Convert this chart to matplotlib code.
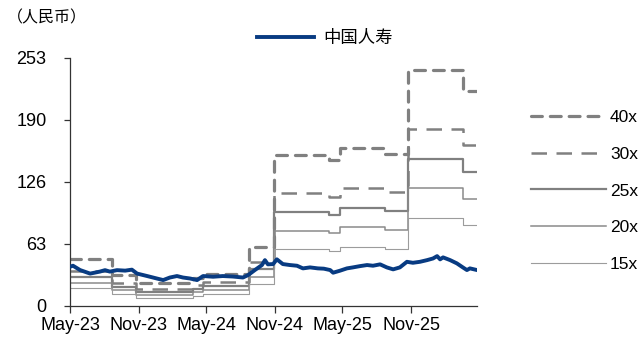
import numpy as np
import matplotlib
matplotlib.use('Agg')
import matplotlib.pyplot as plt
import matplotlib.dates as mdates
from matplotlib.lines import Line2D

plt.rcParams['font.family'] = ['Liberation Sans', 'Noto Sans CJK SC', 'DejaVu Sans']

# ---------------- data ----------------
price_dates = [
    '2023-05-01', '2023-05-09', '2023-05-28', '2023-06-24', '2023-07-20', '2023-08-03',
    '2023-08-16', '2023-09-04', '2023-09-26', '2023-10-14', '2023-10-28', '2023-11-24',
    '2023-12-20', '2024-01-06', '2024-01-24', '2024-02-12', '2024-02-28', '2024-03-18',
    '2024-04-06', '2024-04-22', '2024-05-19', '2024-06-14', '2024-07-11', '2024-08-07',
    '2024-08-21', '2024-09-08', '2024-09-27', '2024-10-05', '2024-10-13', '2024-10-27',
    '2024-11-06', '2024-11-22', '2024-12-11', '2024-12-30', '2025-01-15', '2025-02-03',
    '2025-02-24', '2025-03-12', '2025-03-29', '2025-04-06', '2025-04-24', '2025-05-13',
    '2025-05-29', '2025-06-17', '2025-07-06', '2025-07-22', '2025-08-10', '2025-08-28',
    '2025-09-14', '2025-10-02', '2025-10-21', '2025-11-06', '2025-11-25', '2025-12-14',
    '2025-12-30', '2026-01-10', '2026-01-18', '2026-01-26', '2026-02-14', '2026-03-04',
    '2026-03-20', '2026-03-31', '2026-04-08', '2026-04-27',
]
price_values = [
    40.0, 41.0, 36.6, 33.0, 35.0, 36.5,
    35.0, 36.5, 36.0, 37.0, 33.0, 30.5,
    28.0, 26.4, 29.0, 30.5, 29.0, 28.0,
    26.4, 30.5, 29.8, 30.5, 30.0, 29.0,
    31.5, 36.6, 41.7, 46.7, 42.4, 42.7,
    47.5, 42.7, 41.7, 41.0, 38.3, 39.3,
    38.3, 38.0, 36.6, 33.9, 35.9, 38.3,
    39.3, 40.6, 41.7, 41.0, 42.4, 39.3,
    37.3, 39.3, 45.0, 44.0, 45.0, 46.7,
    48.4, 50.8, 47.5, 49.5, 46.7, 43.4,
    39.3, 36.6, 38.3, 36.6,
]

# trailing EPS (RMB) used for the PE bands; last entry closes the final step
eps_dates = [
    '2023-05-01', '2023-08-21', '2023-10-25', '2024-03-26', '2024-04-22',
    '2024-08-24', '2024-10-28', '2025-03-27', '2025-04-24', '2025-08-23',
    '2025-10-24', '2026-03-20', '2026-04-27',
]
eps_values = [
    1.19, 0.79, 0.575, 0.70, 0.82,
    1.49, 3.84, 3.71, 4.01, 3.86,
    6.00, 5.47, 5.47,
]

pe_multiples = [40, 30, 25, 20, 15]
pe_labels = ['40x', '30x', '25x', '20x', '15x']
series_label = '中国人寿'
unit_label = '（人民币）'

y_ticks = [0, 63.25, 126.5, 189.75, 253]
y_tick_labels = ['0', '63', '126', '190', '253']
x_tick_dates = ['2023-05-01', '2023-11-01', '2024-05-01', '2024-11-01', '2025-05-01', '2025-11-01']
x_tick_labels = ['May-23', 'Nov-23', 'May-24', 'Nov-24', 'May-25', 'Nov-25']

# ---------------- styles ----------------
band_styles = {
    40: dict(color='#808080', lw=2.3, ls=(0, (3.4, 2.5)), dash_capstyle='round'),
    30: dict(color='#808080', lw=1.8, ls=(0, (6.2, 3.8))),
    25: dict(color='#808080', lw=1.6, ls='-'),
    20: dict(color='#8a8a8a', lw=1.1, ls='-'),
    15: dict(color='#9c9c9c', lw=0.8, ls='-'),
}
price_color = '#083b82'

# ---------------- plot ----------------
fig = plt.figure(figsize=(6.42, 3.38), dpi=100)
ax = fig.add_axes([70 / 642, 1 - 306 / 338, (477 - 70) / 642, (306 - 57.5) / 338])

ed = np.array(eps_dates, dtype='datetime64[D]')
ev = np.array(eps_values)
band_handles = []
for m, lab in zip(pe_multiples, pe_labels):
    h, = ax.step(ed, ev * m, where='post', label=lab, **band_styles[m])
    band_handles.append(h)

pd_ = np.array(price_dates, dtype='datetime64[D]')
price_line, = ax.plot(pd_, price_values, color=price_color, lw=2.8,
                      solid_joinstyle='round', label=series_label, zorder=5)

ax.set_xlim(np.datetime64('2023-05-01'), np.datetime64('2026-04-27'))
ax.set_ylim(0, 253)
ax.set_yticks(y_ticks)
ax.set_yticklabels(y_tick_labels)
ax.set_xticks(np.array(x_tick_dates, dtype='datetime64[D]'))
ax.set_xticklabels(x_tick_labels)

for s in ['top', 'right']:
    ax.spines[s].set_visible(False)
for s in ['left', 'bottom']:
    ax.spines[s].set_color('#333333')
    ax.spines[s].set_linewidth(0.9)
ax.tick_params(axis='both', direction='out', colors='#333333', labelcolor='black',
               labelsize=13, width=0.9)
ax.tick_params(axis='y', length=4, pad=13)
ax.tick_params(axis='x', length=5, pad=3)

fig.text(7 / 642, 1 - 18 / 338, unit_label, fontsize=11.5, va='center', ha='left',
         family=['Noto Sans CJK SC'])

fig.legend([price_line], [series_label], loc='center left',
           bbox_to_anchor=(257 / 642, 1 - 38 / 338), frameon=False,
           handlelength=3.3, handletextpad=0.5, borderpad=0, borderaxespad=0,
           prop={'family': ['Noto Sans CJK SC'], 'size': 12.5})

fig.legend(band_handles, pe_labels, loc='upper left',
           bbox_to_anchor=(531 / 642, 1 - 110 / 338), frameon=False,
           handlelength=4.3, handletextpad=0.25, labelspacing=1.24,
           borderpad=0, borderaxespad=0, fontsize=12.5)

fig.savefig('out.png', dpi=100)
